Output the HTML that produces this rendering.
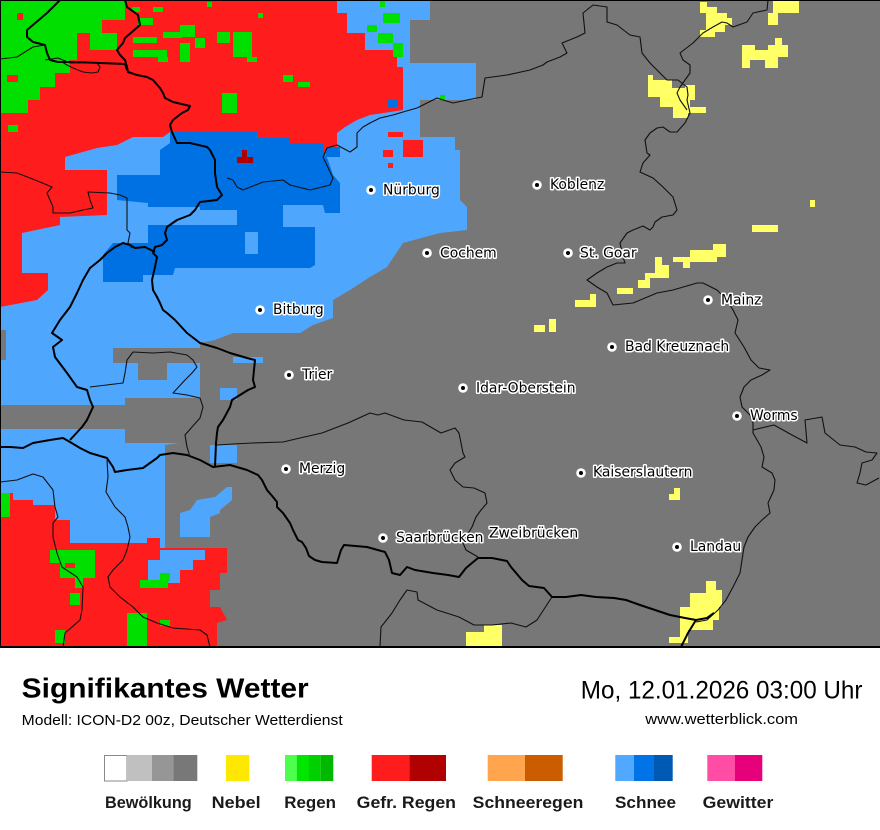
<!DOCTYPE html>
<html>
<head>
<meta charset="utf-8">
<style>
html,body{margin:0;padding:0;background:#fff;width:880px;height:830px;overflow:hidden}
svg{display:block}
.lbl{font-family:"DejaVu Sans","Liberation Sans",sans-serif;font-size:13.9px;fill:#000;stroke:#fff;stroke-width:3px;paint-order:stroke;stroke-linejoin:round}
.thk{fill:none;stroke:#000;stroke-width:2;stroke-linejoin:round}
.thn{fill:none;stroke:#111;stroke-width:1.1;stroke-linejoin:round}
.leg{font-family:"Liberation Sans",sans-serif;font-weight:bold;font-size:17px;fill:#1a1a1a}
</style>
</head>
<body>
<svg width="880" height="830" viewBox="0 0 880 830" xmlns="http://www.w3.org/2000/svg">
<defs><clipPath id="mc"><rect x="0" y="0" width="880" height="646"/></clipPath></defs>
<rect width="880" height="830" fill="#fff"/>
<g clip-path="url(#mc)">
<rect x="0" y="0" width="880" height="647" fill="#777777"/>
<!-- light blue -->
<polygon fill="#4fa6fd" points="0,0 430,0 430,20 410,20 410,63 476,63 476,100 420,100 420,137 455,137 455,150 460,150 460,200 467,207 467,230 440,233 403,243 395,255 387,267 370,277 350,290 333,300 333,318 313,325 300,333 233,333 215,340 200,343 200,440 165,445 165,647 0,647"/>
<!-- gray holes -->
<g fill="#777777">
<rect x="113" y="348" width="87" height="15"/>
<rect x="138" y="363" width="29" height="17"/>
<rect x="0" y="405" width="165" height="24"/>
<rect x="125" y="398" width="75" height="45"/>
<rect x="0" y="330" width="6" height="30"/>
</g>
<!-- blue bits in gray -->
<g fill="#4fa6fd">
<rect x="233" y="357" width="30" height="6"/>
<rect x="220" y="388" width="17" height="12"/>
<rect x="210" y="445" width="27" height="18"/>
<polygon points="215,497 227,487 232,487 232,500 220,510 220,513 210,517 210,537 180,537 180,513 190,510 197,500"/>
</g>
<!-- red main -->
<polygon fill="#fe1c1c" points="0,0 337,0 337,13 347,13 347,33 365,33 365,50 397,50 397,67 403,67 403,110 390,112 370,115 357,120 345,127 337,133 337,147 330,150 323,157 317,157 317,150 300,150 290,143 257,143 257,132 170,132 163,137 133,137 117,145 97,148 65,157 65,170 107,170 107,215 60,217 60,225 22,233 22,273 48,273 48,290 37,300 0,307"/>
<g fill="#fe1c1c">
<rect x="383" y="150" width="10" height="7"/>
<rect x="403" y="140" width="20" height="17"/>
<rect x="388" y="163" width="5" height="5"/>
<rect x="388" y="132" width="15" height="5"/>
</g>
<!-- red bottom-left -->
<polygon fill="#fe1c1c" points="0,493 13,493 13,500 33,500 33,505 55,505 55,520 70,520 70,543 147,543 147,538 160,538 160,548 227,548 227,573 220,573 220,590 210,590 210,607 220,607 227,620 217,623 217,647 0,647"/>
<polygon fill="#4fa6fd" points="160,550 205,550 205,560 193,560 193,570 180,570 180,583 148,583 148,560 160,560"/>
<!-- green -->
<g fill="#00df00">
<polygon points="0,0 125,0 125,20 102,20 102,33 77,33 77,60 70,60 70,73 55,73 55,87 40,87 40,100 28,100 28,113 0,113"/>
<rect x="8" y="125" width="10" height="7"/>
<rect x="90" y="33" width="27" height="17"/>
<rect x="132" y="7" width="8" height="5"/>
<rect x="138" y="18" width="15" height="7"/>
<rect x="133" y="37" width="24" height="6"/>
<rect x="133" y="50" width="34" height="7"/>
<rect x="158" y="57" width="10" height="5"/>
<rect x="163" y="32" width="19" height="6"/>
<rect x="180" y="25" width="15" height="12"/>
<rect x="195" y="38" width="10" height="10"/>
<rect x="180" y="43" width="10" height="19"/>
<rect x="217" y="32" width="13" height="11"/>
<rect x="233" y="32" width="19" height="25"/>
<rect x="247" y="57" width="10" height="5"/>
<rect x="283" y="75" width="10" height="7"/>
<rect x="298" y="82" width="12" height="5"/>
<rect x="222" y="93" width="15" height="20"/>
<rect x="258" y="13" width="5" height="5"/>
<rect x="207" y="2" width="5" height="5"/>
<rect x="153" y="7" width="10" height="5"/>
<rect x="383" y="13" width="17" height="10"/>
<rect x="367" y="25" width="10" height="7"/>
<rect x="378" y="33" width="15" height="10"/>
<rect x="393" y="43" width="10" height="14"/>
<rect x="380" y="0" width="5" height="7"/>
<rect x="440" y="95" width="5" height="5"/>
<rect x="50" y="550" width="45" height="13"/>
<rect x="60" y="563" width="35" height="15"/>
<rect x="75" y="578" width="8" height="10"/>
<rect x="127" y="613" width="20" height="34"/>
<rect x="140" y="580" width="28" height="8"/>
<rect x="160" y="573" width="10" height="8"/>
<rect x="0" y="493" width="10" height="24"/>
<rect x="55" y="630" width="10" height="13"/>
<rect x="70" y="593" width="10" height="12"/>
<rect x="160" y="620" width="10" height="6"/>
</g>
<g fill="#fe1c1c">
<rect x="7" y="75" width="11" height="7"/>
<rect x="17" y="13" width="6" height="7"/>
<rect x="65" y="563" width="10" height="5"/>
</g>
<!-- dark blue -->
<polygon fill="#0071e3" points="170,132 257,132 257,138 290,138 290,143 323,143 323,150 328,160 333,175 340,183 340,213 325,213 323,205 283,205 283,227 315,227 315,265 310,268 175,268 173,275 143,275 143,282 103,282 103,255 113,243 148,243 148,225 200,225 200,207 148,207 148,203 117,200 117,175 160,175 160,150 170,143"/>
<g fill="#0071e3">
<rect x="388" y="100" width="10" height="7"/>
<rect x="326" y="147" width="14" height="10"/>
</g>
<g fill="#4fa6fd">
<rect x="200" y="210" width="37" height="15"/>
<rect x="245" y="232" width="13" height="22"/>
</g>
<g fill="#b00000">
<rect x="242" y="150" width="5" height="7"/>
<rect x="237" y="157" width="16" height="6"/>
</g>
<!-- yellow -->
<g fill="#ffff66">
<polygon points="700,2 707,2 707,7 717,7 717,13 727,13 727,18 732,18 732,25 725,25 725,32 715,32 715,37 700,37 700,30 706,30 706,13 700,13"/>
<rect x="773" y="0" width="26" height="13"/>
<rect x="768" y="13" width="10" height="12"/>
<polygon points="742,45 755,45 755,50 768,50 768,45 775,45 775,38 782,38 782,45 788,45 788,57 778,57 778,68 765,68 765,60 750,60 750,68 742,68"/>
<polygon points="648,75 653,75 653,80 672,80 672,88 685,88 685,85 695,85 695,100 690,100 690,107 706,107 706,113 688,113 688,118 673,118 673,107 660,107 660,97 648,97"/>
<rect x="810" y="200" width="5" height="7"/>
<rect x="752" y="225" width="26" height="7"/>
<polygon points="713,244 726,244 726,257 717,257 717,262 690,262 690,268 683,268 683,262 673,262 673,257 690,257 690,250 713,250"/>
<polygon points="655,257 662,257 662,265 669,265 669,278 650,278 650,288 638,288 638,280 645,280 645,273 655,273"/>
<rect x="617" y="288" width="16" height="6"/>
<polygon points="590,294 596,294 596,307 575,307 575,300 590,300"/>
<rect x="534" y="325" width="11" height="7"/>
<rect x="549" y="319" width="7" height="13"/>
<polygon points="674,488 680,488 680,500 669,500 669,494 674,494"/>
<polygon points="706,581 716,581 716,590 722,590 722,607 719,607 719,620 713,620 713,630 688,630 688,643 669,643 669,637 680,637 680,607 690,607 690,593 706,593"/>
<polygon points="484,625 502,625 502,647 466,647 466,632 484,632"/>
</g>
<!-- thick borders -->
<polyline class="thk" points="125,0 127,7 138,15 140,25 132,32 125,38 123,43 117,50 120,55 125,60 127,67 128,72 137,75 147,77 153,80 160,88 163,93 165,98 173,102 190,106 188,110 182,113 173,120 170,125 172,132 177,143 190,143 207,147 210,150 215,160 215,173 217,187 222,195 217,200 200,202 195,210 190,215 177,220 167,227 165,233 167,240 162,245 155,247 153,253 157,257 155,267 152,280 153,290 157,297 160,303 163,310 167,313 175,320 187,333 200,343 217,348 230,353 247,358 255,360 253,380 255,387 248,390 240,395 232,400 230,407 223,420 218,427 217,433 216,443 215,467"/>
<polyline class="thk" points="60,0 47,13 27,30 27,37 33,42 45,45 47,53 50,60 58,62 70,62 100,63 125,64 127,70"/>
<polyline class="thk" points="155,252 145,247 135,248 130,245 123,243 115,247 107,253 100,260 90,268 83,280 77,293 70,307 60,320 52,333 62,340 53,347 55,357 67,373 77,387 87,390 90,400 93,407 87,420 82,427 70,440"/>
<polyline class="thk" points="0,447 10,447 23,448 33,443 50,440 63,438 70,442 80,448 90,453 107,458 113,467 115,472 127,470 143,468 150,463 157,458 160,455 173,453 187,455 200,460 213,467 230,465 247,470 258,475 262,480 267,490 273,497 277,502 277,507 283,513 290,523 293,530 298,540 302,542 306,548 309,556 315,560 322,562 337,563 341,550 344,545 367,547 385,552 389,560 392,573 400,575 407,567 415,570 433,573 448,575 459,577 466,568 478,558 492,558 507,561 511,567 522,580 529,586 544,588 552,597 566,597 581,595 596,597 614,598 626,600 640,605 655,610 670,615 685,618 696,620 707,618 714,613"/>
<polyline class="thk" points="696,620 688,633 681,647"/>
<!-- thin borders -->
<polyline class="thn" points="227,178 233,180 237,187 243,190 263,182 283,180 290,185 310,190 330,185 333,178 323,157 327,148 337,145 350,152 357,147 357,133 363,127 370,123 380,118 393,115 403,112 417,108 427,103 437,98 443,100 453,103 467,100 482,97 485,78 507,75 530,70 543,65 547,62 560,57 567,53 562,43 577,37 585,33 583,13 593,5 607,7 607,22 617,25 630,35 640,37 642,53 650,63 660,73 667,80 678,80 687,87 688,95 687,100 690,113 685,123 677,132 670,132 663,127 657,128 650,133 645,140 647,153 650,155 643,163 640,172 653,178 663,187 673,197 677,210 673,215 662,217 655,222 653,227 650,230 643,226 633,230 627,233 620,243 623,257 625,263 617,263 607,267 597,273 587,280 597,287 607,293 613,305 633,303 657,293 673,290 697,283 703,283 717,290 727,300 733,310 738,320 735,333 744,347 751,360 759,368 770,370 762,375 751,380 744,387 740,397 742,407 750,415 753,423 753,433 761,447 764,457 762,467 772,473 775,480 774,490 768,503 770,513 762,520 755,527 748,537 744,547 742,560 740,573 733,587 726,600 718,610 707,620 696,622"/>
<polyline class="thn" points="768,0 767,10 753,13 747,22 733,27 727,23 722,22 713,27 703,33 693,43 680,53 683,60 690,65 690,73 685,80 680,87 677,93 680,100 687,110"/>
<polyline class="thn" points="753,430 774,425 792,435 807,443 805,420 822,417 825,433 840,445 855,447 866,452 877,453 872,460 862,463 860,473 857,483 866,485 879,478"/>
<polyline class="thn" points="217,445 233,444 253,443 283,442 300,438 322,433 348,423 370,413 378,415 385,413 404,420 422,422 441,433 455,428 459,433 461,443 463,453 465,457 455,463 450,470 455,480 463,487 474,488 485,493 487,503 481,510 476,517 472,527 466,537 463,543 466,550 478,557"/>
<polyline class="thn" points="380,647 381,627 392,613 400,600 407,590 417,592 418,600 437,610 459,617 474,625 492,625 511,623 526,627 537,620 548,603 552,597"/>
<polyline class="thn" points="0,482 17,480 33,474 43,477 53,490 55,507 58,517 53,523 53,537 57,553 62,567 77,577 83,587 82,610 80,620 72,627 65,633 63,647"/>
<polyline class="thn" points="107,460 108,477 106,492 115,507 125,517 128,527 130,537 127,550 123,560 113,570 108,577 110,587 120,597 133,607 143,617 157,623 173,628 200,630 207,635 210,647"/>
<polyline class="thn" points="133,352 153,353 170,352 187,355 193,360 197,367 192,373 185,380 173,393 187,395 200,398 203,407 200,418 192,427 185,435 187,447 190,457"/>
<polyline class="thn" points="133,352 127,360 125,373 123,383 90,387"/>
<polyline class="thn" points="0,59 17,57 33,47 45,45"/>
<polyline class="thn" points="45,60 58,58 70,63 97,63 100,67 98,72 92,73 83,72 73,68 67,65 62,62"/>
<polyline class="thn" points="0,172 17,173 30,178 40,182 52,187 47,193 53,207 53,213 70,213 83,210 93,208 90,200 88,192 110,193 120,195 127,198 127,230 130,233 128,243 132,248"/>
<!-- cities -->
<g>
<g fill="#fff"><circle cx="371" cy="190" r="4.8"/><circle cx="537" cy="185" r="4.8"/><circle cx="427" cy="253" r="4.8"/><circle cx="568" cy="253" r="4.8"/><circle cx="708" cy="300" r="4.8"/><circle cx="260" cy="310" r="4.8"/><circle cx="612" cy="347" r="4.8"/><circle cx="289" cy="375" r="4.8"/><circle cx="463" cy="388" r="4.8"/><circle cx="737" cy="416" r="4.8"/><circle cx="286" cy="469" r="4.8"/><circle cx="581" cy="473" r="4.8"/><circle cx="383" cy="538" r="4.8"/><circle cx="677" cy="547" r="4.8"/></g>
<g fill="#000"><circle cx="371" cy="190" r="2"/><circle cx="537" cy="185" r="2"/><circle cx="427" cy="253" r="2"/><circle cx="568" cy="253" r="2"/><circle cx="708" cy="300" r="2"/><circle cx="260" cy="310" r="2"/><circle cx="612" cy="347" r="2"/><circle cx="289" cy="375" r="2"/><circle cx="463" cy="388" r="2"/><circle cx="737" cy="416" r="2"/><circle cx="286" cy="469" r="2"/><circle cx="581" cy="473" r="2"/><circle cx="383" cy="538" r="2"/><circle cx="677" cy="547" r="2"/></g>
<text class="lbl" x="383" y="194.5">Nürburg</text>
<text class="lbl" x="550" y="189">Koblenz</text>
<text class="lbl" x="440" y="257.5">Cochem</text>
<text class="lbl" x="580" y="257.5">St. Goar</text>
<text class="lbl" x="721" y="304.5">Mainz</text>
<text class="lbl" x="273" y="314">Bitburg</text>
<text class="lbl" x="625" y="351">Bad Kreuznach</text>
<text class="lbl" x="302" y="379">Trier</text>
<text class="lbl" x="476" y="392.5">Idar-Oberstein</text>
<text class="lbl" x="750" y="420">Worms</text>
<text class="lbl" x="299" y="473">Merzig</text>
<text class="lbl" x="593" y="476.5">Kaiserslautern</text>
<text class="lbl" x="396" y="542">Saarbrücken</text>
<text class="lbl" x="489" y="537.5">Zweibrücken</text>
<text class="lbl" x="690" y="551">Landau</text>
</g>
</g>
<!-- map frame -->
<rect x="0" y="0" width="880" height="1" fill="#000"/>
<rect x="0" y="0" width="1" height="647" fill="#000"/>
<rect x="0" y="646" width="880" height="2" fill="#000"/>
<!-- footer -->
<text x="21.7" y="697.5" font-family="Liberation Sans, Arial, sans-serif" font-weight="bold" font-size="28" fill="#000" textLength="287" lengthAdjust="spacingAndGlyphs">Signifikantes Wetter</text>
<text x="21.7" y="725" font-family="Liberation Sans, Arial, sans-serif" font-size="15" fill="#000" textLength="321" lengthAdjust="spacingAndGlyphs">Modell: ICON-D2 00z, Deutscher Wetterdienst</text>
<text x="580.8" y="698.3" font-family="Liberation Sans, Arial, sans-serif" font-size="25" fill="#000" textLength="281.7" lengthAdjust="spacingAndGlyphs">Mo, 12.01.2026 03:00 Uhr</text>
<text x="645.3" y="724" font-family="Liberation Sans, Arial, sans-serif" font-size="15" fill="#000" textLength="152.7" lengthAdjust="spacingAndGlyphs">www.wetterblick.com</text>
<!-- legend -->
<rect x="104.5" y="755.5" width="22.5" height="25.5" fill="#fff" stroke="#8a8a8a" stroke-width="1"/>
<rect x="127" y="755" width="25" height="26" fill="#c0c0c0"/>
<rect x="152" y="755" width="21.3" height="26" fill="#969696"/>
<rect x="173.3" y="755" width="24" height="26" fill="#787878"/>
<rect x="226" y="755" width="23.3" height="26" fill="#ffe800"/>
<rect x="285" y="755" width="11.7" height="26" fill="#4cff4c"/>
<rect x="296.7" y="755" width="12.3" height="26" fill="#00e600"/>
<rect x="309" y="755" width="11.7" height="26" fill="#00d000"/>
<rect x="320.7" y="755" width="12.6" height="26" fill="#00b800"/>
<rect x="371.7" y="755" width="37.6" height="26" fill="#fe1c1c"/>
<rect x="409.3" y="755" width="36.7" height="26" fill="#b00000"/>
<rect x="487.7" y="755" width="37.3" height="26" fill="#ffa54d"/>
<rect x="525" y="755" width="37.7" height="26" fill="#cc5c00"/>
<rect x="615.3" y="755" width="18.7" height="26" fill="#50a8ff"/>
<rect x="634" y="755" width="20" height="26" fill="#0073e6"/>
<rect x="654" y="755" width="18.7" height="26" fill="#005ab4"/>
<rect x="707.3" y="755" width="27.7" height="26" fill="#ff4da6"/>
<rect x="735" y="755" width="27.3" height="26" fill="#e6007a"/>
<text class="leg" x="105" y="808" textLength="86.7" lengthAdjust="spacingAndGlyphs">Bewölkung</text>
<text class="leg" x="211.7" y="808" textLength="49" lengthAdjust="spacingAndGlyphs">Nebel</text>
<text class="leg" x="284.3" y="808" textLength="51.7" lengthAdjust="spacingAndGlyphs">Regen</text>
<text class="leg" x="356.7" y="808" textLength="99.3" lengthAdjust="spacingAndGlyphs">Gefr. Regen</text>
<text class="leg" x="472.7" y="808" textLength="110.7" lengthAdjust="spacingAndGlyphs">Schneeregen</text>
<text class="leg" x="615" y="808" textLength="61" lengthAdjust="spacingAndGlyphs">Schnee</text>
<text class="leg" x="702.7" y="808" textLength="70.7" lengthAdjust="spacingAndGlyphs">Gewitter</text>
</svg>
</body>
</html>
